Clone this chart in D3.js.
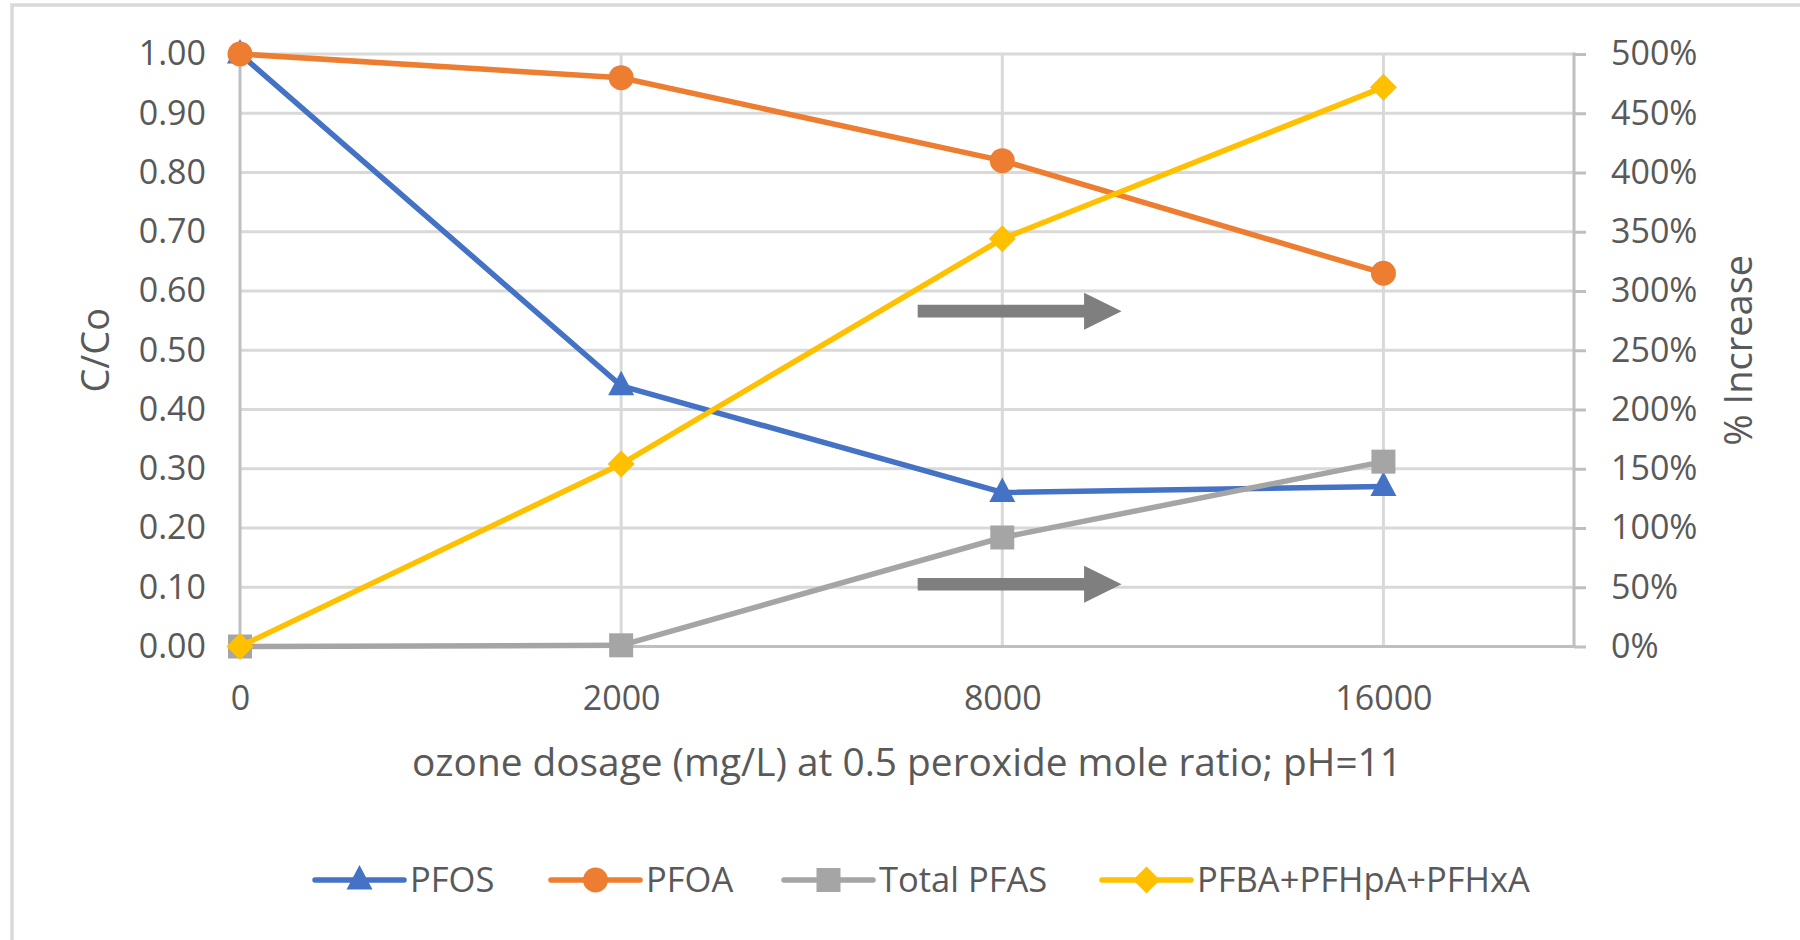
<!DOCTYPE html>
<html>
<head>
<meta charset="utf-8">
<script src="https://cdn.jsdelivr.net/npm/d3@7"></script>
<style>
  body { margin: 0; background: #fff; }
  text { font-family: "Open Sans", "Noto Sans", sans-serif; fill: #595959; }
</style>
</head>
<body>
<div id="container"></div>
<script>
// chart data
const categories = ['0', '2000', '8000', '16000']
const pfos = [1.00, 0.44, 0.26, 0.27]          // C/Co, left axis
const pfoa = [1.00, 0.96, 0.82, 0.63]          // C/Co, left axis
const totalPfas = [0, 1, 92, 156]              // % increase, right axis
const pfbaSum = [0, 154, 344, 472]             // % increase, right axis
const leftTicks = [0, 0.1, 0.2, 0.3, 0.4, 0.5, 0.6, 0.7, 0.8, 0.9, 1.0]
const rightTicks = [0, 50, 100, 150, 200, 250, 300, 350, 400, 450, 500]

const w = 1800
const h = 940

// plot area
const pLeft = 240, pRight = 1574, pTop = 54, pBottom = 646.5

const x = d3.scaleLinear().domain([0, 3.5]).range([pLeft, pRight])
const y = d3.scaleLinear().domain([0, 1]).range([pBottom, pTop])
const y2 = d3.scaleLinear().domain([0, 500]).range([pBottom, pTop])

const svg = d3.select('#container')
    .append('svg')
    .attr('width', w)
    .attr('height', h)

// chart border
svg.append('rect')
    .attr('x', 12).attr('y', 5)
    .attr('width', 1900).attr('height', 1100)
    .attr('fill', 'none')
    .attr('stroke', '#d9d9d9')
    .attr('stroke-width', 3.5)

// gridlines
svg.append('g').selectAll('line.h')
    .data(leftTicks.slice(1))
    .enter().append('line')
    .attr('x1', pLeft).attr('x2', pRight)
    .attr('y1', d => y(d)).attr('y2', d => y(d))
    .attr('stroke', '#d9d9d9').attr('stroke-width', 3)

svg.append('g').selectAll('line.v')
    .data([1, 2, 3])
    .enter().append('line')
    .attr('x1', d => x(d)).attr('x2', d => x(d))
    .attr('y1', pTop).attr('y2', pBottom)
    .attr('stroke', '#d9d9d9').attr('stroke-width', 3)

// axes lines
const axisColor = '#bfbfbf'
svg.append('line').attr('x1', pLeft).attr('x2', pLeft).attr('y1', pTop - 1.5).attr('y2', pBottom)
    .attr('stroke', axisColor).attr('stroke-width', 3)
svg.append('line').attr('x1', pRight).attr('x2', pRight).attr('y1', pTop - 1.5).attr('y2', pBottom)
    .attr('stroke', axisColor).attr('stroke-width', 3)
svg.append('line').attr('x1', pLeft - 1.5).attr('x2', pRight + 1.5).attr('y1', pBottom).attr('y2', pBottom)
    .attr('stroke', axisColor).attr('stroke-width', 3)

// left axis labels
const gl = svg.append('g')
    .attr('transform', 'translate(' + pLeft + ',0)')
    .call(d3.axisLeft(y).tickValues(leftTicks).tickFormat(d3.format('.2f')).tickSize(0).tickPadding(34))
gl.select('.domain').remove()
gl.selectAll('text').style('font-size', '34px').attr('fill', '#595959')

// right axis
const gr = svg.append('g')
    .attr('transform', 'translate(' + pRight + ',0)')
    .call(d3.axisRight(y2).tickValues(rightTicks).tickFormat(d => d + '%').tickSize(12).tickPadding(25))
gr.select('.domain').remove()
gr.selectAll('line').attr('stroke', axisColor).attr('stroke-width', 3)
gr.selectAll('text').style('font-size', '34px').attr('fill', '#595959')

// bottom axis labels
const gb = svg.append('g')
    .attr('transform', 'translate(0,' + pBottom + ')')
    .call(d3.axisBottom(x).tickValues([0, 1, 2, 3]).tickFormat(i => categories[i]).tickSize(0).tickPadding(39))
gb.select('.domain').remove()
gb.selectAll('text').style('font-size', '34px').attr('fill', '#595959')

// axis titles
svg.append('text')
    .attr('x', (pLeft + pRight) / 2).attr('y', 776)
    .attr('text-anchor', 'middle')
    .style('font-size', '38.8px')
    .text('ozone dosage (mg/L) at 0.5 peroxide mole ratio; pH=11')

svg.append('text')
    .attr('transform', 'translate(109,' + (pTop + pBottom) / 2 + ') rotate(-90)')
    .attr('text-anchor', 'middle')
    .style('font-size', '38px')
    .text('C/Co')

svg.append('text')
    .attr('transform', 'translate(1752,' + (pTop + pBottom) / 2 + ') rotate(-90)')
    .attr('text-anchor', 'middle')
    .style('font-size', '38px')
    .text('% Increase')

// arrows pointing to the right axis (annotation, in data units)
const arrows = [0.566, 0.105]
const arrowFrom = 1.778, arrowTo = 2.313
svg.append('g').selectAll('path')
    .data(arrows)
    .enter().append('path')
    .attr('fill', '#7f7f7f')
    .attr('d', function(d) {
        const cy = y(d), x0 = x(arrowFrom), x1 = x(arrowTo), hx = x1 - 37.5
        return 'M' + x0 + ',' + (cy - 6.3) + 'L' + hx + ',' + (cy - 6.3) + 'L' + hx + ',' + (cy - 18.5) +
            'L' + x1 + ',' + cy + 'L' + hx + ',' + (cy + 18.5) + 'L' + hx + ',' + (cy + 6.3) +
            'L' + x0 + ',' + (cy + 6.3) + 'Z'
    })

// series
const series = [
    { name: 'PFOS', values: pfos, scale: y, color: '#4472c4', marker: 'triangle' },
    { name: 'PFOA', values: pfoa, scale: y, color: '#ed7d31', marker: 'circle' },
    { name: 'Total PFAS', values: totalPfas, scale: y2, color: '#a5a5a5', marker: 'square' },
    { name: 'PFBA+PFHpA+PFHxA', values: pfbaSum, scale: y2, color: '#ffc000', marker: 'diamond' }
]

const markerPath = {
    triangle: 'M0,-15L13,9.5L-13,9.5Z',
    circle: 'M12.5,0A12.5,12.5 0 1,1 -12.5,0A12.5,12.5 0 1,1 12.5,0Z',
    square: 'M-12,-12h24v24h-24Z',
    diamond: 'M0,-13.5L13.5,0L0,13.5L-13.5,0Z'
}

series.forEach(function(s) {
    const line = d3.line()
        .x((d, i) => x(i))
        .y(d => s.scale(d))
    const g = svg.append('g')
    g.append('path')
        .datum(s.values)
        .attr('fill', 'none')
        .attr('stroke', s.color)
        .attr('stroke-width', 5.5)
        .attr('stroke-linejoin', 'round')
        .attr('d', line)
    g.selectAll('path.m')
        .data(s.values)
        .enter().append('path')
        .attr('class', 'm')
        .attr('transform', (d, i) => 'translate(' + x(i) + ',' + s.scale(d) + ')')
        .attr('d', markerPath[s.marker])
        .attr('fill', s.color)
})

// legend
const legendX = [315, 551, 784, 1102]
const legendY = 880
const lg = svg.append('g').selectAll('g')
    .data(series)
    .enter().append('g')
    .attr('transform', (d, i) => 'translate(' + legendX[i] + ',' + legendY + ')')
lg.append('line')
    .attr('x1', 0).attr('x2', 89)
    .attr('stroke', d => d.color)
    .attr('stroke-width', 5.5)
    .attr('stroke-linecap', 'round')
lg.append('path')
    .attr('transform', 'translate(44.5,0)')
    .attr('d', d => markerPath[d.marker])
    .attr('fill', d => d.color)
lg.append('text')
    .attr('x', 95).attr('y', 12)
    .style('font-size', '34.5px')
    .text(d => d.name)
</script>
</body>
</html>
